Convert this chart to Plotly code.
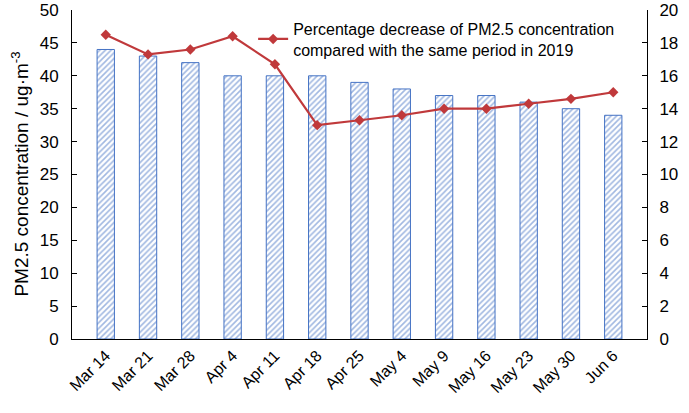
import plotly.graph_objects as go

categories = ["Mar 14", "Mar 21", "Mar 28", "Apr 4", "Apr 11", "Apr 18", "Apr 25",
              "May 4", "May 9", "May 16", "May 23", "May 30", "Jun 6"]
pm25 = [44, 43, 42, 40, 40, 40, 39, 38, 37, 37, 36, 35, 34]
pct_decrease = [18.5, 17.3, 17.6, 18.4, 16.7, 13.0, 13.3, 13.6, 14.0, 14.0, 14.3, 14.6, 15.0]
y_title = "PM2.5 concentration / ug·m<sup>-3</sup>"

blue = "#4472C4"
red = "#C0393B"
font = "Liberation Sans, Arial, sans-serif"

fig = go.Figure()
fig.add_trace(go.Bar(
    x=categories, y=pm25, showlegend=False, width=0.41,
    marker=dict(color="white", line=dict(color=blue, width=1),
                pattern=dict(shape="/", fgcolor=blue, bgcolor="white", size=4, solidity=0.4)),
))
fig.add_trace(go.Scatter(
    x=categories, y=pct_decrease, yaxis="y2", mode="lines+markers",
    name="Percentage decrease of PM2.5 concentration<br>compared with the same period in 2019",
    line=dict(color=red, width=2.2),
    marker=dict(symbol="diamond", size=8, color=red),
))

fig.update_layout(
    width=689, height=413, autosize=False,
    margin=dict(l=72, r=42, t=10, b=74, pad=0),
    plot_bgcolor="white", paper_bgcolor="white",
    font=dict(family=font, size=17, color="black"),
    xaxis=dict(showline=True, linecolor="black", linewidth=1, ticks="", tickangle=-45,
               tickfont=dict(size=16), showgrid=False, automargin=False),
    yaxis=dict(range=[0, 50], dtick=5, showline=True, linecolor="black", linewidth=1,
               ticks="inside", ticklen=5, tickcolor="black", showgrid=False, zeroline=False,
               automargin=False, ticklabelstandoff=9),
    yaxis2=dict(range=[0, 20], dtick=2, overlaying="y", side="right", showline=True,
                linecolor="black", linewidth=1, ticks="inside", ticklen=5, tickcolor="black",
                showgrid=False, zeroline=False, automargin=False, ticklabelstandoff=8),
    legend=dict(x=0.315, y=0.995, xanchor="left", yanchor="top", bgcolor="rgba(0,0,0,0)",
                font=dict(size=16), itemwidth=30, tracegroupgap=0),
    annotations=[dict(text=y_title, xref="paper", yref="paper", x=-0.092, y=0.5,
                      xanchor="center", yanchor="middle", textangle=-90, showarrow=False,
                      font=dict(size=19, family=font))],
)

fig.write_html("out.html", config={"displayModeBar": False},
               post_script="document.body.style.margin='0';")
